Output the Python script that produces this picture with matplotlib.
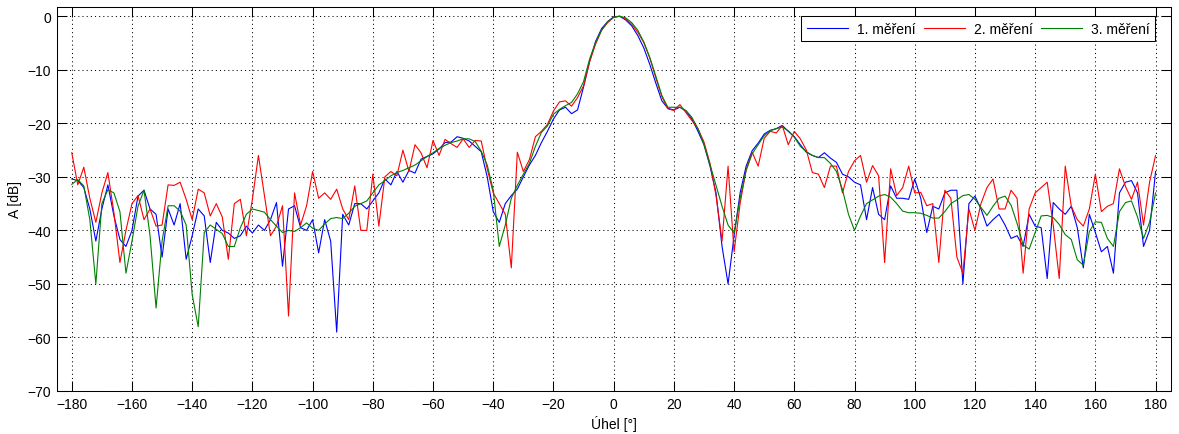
import numpy as np
import matplotlib
matplotlib.use('Agg')
import matplotlib.pyplot as plt

plt.rcParams['font.family'] = ['Liberation Sans', 'DejaVu Sans']
plt.rcParams['font.size'] = 10

# angle grid, 2 degree step
uhel = np.arange(-180, 181, 2)

# 1. mereni (blue)
mereni1 = [
    -30.4, -30.7, -32.0, -36.0, -42.0, -36.0, -31.5, -37.3, -41.7, -43.0,
    -40.0, -33.6, -32.5, -36.0, -37.0, -45.0, -36.0, -39.0, -35.0, -45.4,
    -41.0, -36.0, -37.3, -46.0, -38.5, -40.0, -40.5, -41.5, -41.0, -39.2,
    -40.5, -39.0, -40.0, -38.0, -34.8, -46.7, -36.0, -35.4, -39.5, -40.0,
    -38.0, -44.2, -38.0, -42.0, -59.0, -37.0, -39.0, -35.0, -35.0, -36.0,
    -34.5, -33.0, -30.4, -31.5, -29.0, -31.0, -28.8, -29.3, -26.7, -26.2,
    -25.7, -24.8, -23.6, -23.5, -22.5, -22.8, -23.3, -24.3, -25.3, -30.0,
    -36.5, -38.5, -35.0, -33.5, -32.3, -30.0, -27.8, -26.0, -23.6, -21.5,
    -19.2, -17.5, -17.0, -18.2, -17.5, -13.2, -8.5, -4.7, -2.3, -1.0,
    -0.1, 0.0, -0.7, -1.8, -3.6, -5.9, -9.0, -12.5, -15.8, -17.2,
    -17.5, -17.0, -17.7, -19.2, -21.5, -24.0, -28.0, -33.0, -43.0, -50.0,
    -41.0, -33.0, -28.0, -25.1, -23.7, -22.0, -21.3, -21.0, -20.4, -21.5,
    -22.5, -24.0, -25.4, -26.0, -26.4, -25.5, -26.5, -27.3, -29.5, -30.0,
    -31.0, -31.5, -38.0, -32.0, -37.0, -38.0, -31.7, -34.0, -34.0, -34.2,
    -30.4, -34.0, -40.4, -35.5, -36.0, -33.0, -32.5, -32.5, -50.0, -35.0,
    -33.6, -36.0, -39.2, -38.0, -37.0, -39.0, -41.5, -41.0, -43.0, -37.0,
    -39.2, -39.5, -49.0, -34.8, -36.0, -37.0, -35.5, -39.5, -47.0, -37.0,
    -40.4, -44.0, -43.0, -48.0, -33.0, -31.0, -30.7, -33.0, -43.0, -40.0,
    -29.0,
]

# 2. mereni (red)
mereni2 = [
    -25.5, -31.5, -28.2, -34.0, -38.5, -33.0, -29.2, -36.7, -46.0, -40.0,
    -35.0, -33.5, -38.0, -36.0, -39.2, -39.0, -31.5, -31.6, -31.0, -34.2,
    -38.0, -32.3, -33.0, -37.3, -35.0, -37.5, -45.4, -35.0, -34.2, -41.0,
    -34.2, -26.0, -33.5, -41.0, -39.2, -35.4, -56.0, -33.0, -39.0, -35.4,
    -29.0, -34.0, -33.0, -34.2, -32.3, -36.0, -38.0, -31.7, -40.0, -40.0,
    -29.5, -39.2, -30.0, -29.0, -29.8, -25.0, -29.0, -24.0, -25.5, -28.3,
    -23.2, -26.0, -23.0, -23.8, -24.5, -22.9, -24.5, -23.2, -23.3, -28.5,
    -33.0, -35.0, -37.0, -47.0, -25.4, -29.0, -26.8, -22.5, -21.5, -20.2,
    -17.7, -16.0, -15.8, -16.8, -15.2, -13.0, -8.5, -5.2, -2.6, -1.2,
    -0.2, 0.0, -0.5, -1.5, -3.0, -4.9, -7.8, -11.5, -15.0, -17.3,
    -17.6, -16.5, -18.0, -19.5, -21.0, -23.5, -27.5, -33.5, -42.0, -28.0,
    -44.0, -35.0, -28.7, -25.4, -28.0, -22.8, -21.5, -21.8, -20.4, -24.0,
    -21.5, -22.9, -25.0, -29.2, -29.5, -32.0, -28.0, -28.0, -33.0, -29.0,
    -27.0, -26.0, -31.0, -27.9, -29.8, -46.0, -28.5, -33.5, -32.0, -28.0,
    -33.0, -32.9, -35.4, -35.0, -46.0, -32.5, -34.0, -45.0, -48.0, -36.0,
    -40.0, -35.0, -32.0, -30.4, -36.0, -36.0, -32.5, -34.0, -48.0, -36.0,
    -33.0, -32.0, -31.0, -39.0, -49.0, -28.0, -35.5, -38.0, -39.2, -36.0,
    -29.5, -36.5, -35.5, -35.0, -28.5, -31.8, -34.2, -31.0, -39.0, -31.0,
    -26.0,
]

# 3. mereni (green)
mereni3 = [
    -31.4, -30.5, -31.7, -38.0, -50.0, -35.0, -32.4, -33.0, -36.5, -48.0,
    -42.0, -35.5, -32.5, -41.0, -54.5, -42.0, -35.4, -35.4, -36.4, -39.0,
    -52.0, -58.0, -40.4, -39.0, -39.8, -40.6, -43.0, -43.0, -39.5, -37.0,
    -36.0, -36.3, -36.6, -38.0, -39.2, -40.4, -40.0, -40.2, -39.5, -38.6,
    -39.6, -40.0, -38.8, -37.8, -37.6, -37.8, -36.8, -35.5, -35.0, -34.5,
    -33.0, -31.5, -30.7, -29.8, -29.2, -28.8, -28.3, -27.8, -27.0, -26.2,
    -25.5, -24.7, -24.1, -23.6, -23.3, -22.9, -22.9, -23.4, -25.2, -27.8,
    -32.5, -43.0, -39.0, -34.0, -31.6, -29.5, -27.5, -24.3, -21.7, -20.5,
    -18.3, -17.4, -16.7, -16.1, -14.5, -12.2, -8.0, -4.9, -2.6, -1.0,
    -0.2, 0.0, -0.3, -1.2, -2.6, -4.8, -7.7, -11.2, -14.8, -17.0,
    -17.0, -17.0, -17.6, -18.9, -21.0, -24.0, -27.7, -31.6, -35.5, -39.0,
    -40.5, -34.0, -28.8, -25.7, -24.0, -22.3, -21.4, -21.0, -20.7, -21.4,
    -22.6, -24.3, -25.3, -26.0, -26.4, -26.4, -27.5, -29.0, -32.4, -37.0,
    -40.0, -37.3, -35.0, -34.3, -33.6, -33.3, -33.8, -35.0, -36.4, -36.7,
    -36.7, -36.8, -37.2, -37.7, -37.7, -36.5, -35.0, -34.3, -33.5, -33.3,
    -34.2, -35.7, -37.2, -35.5, -34.0, -33.6, -35.3, -38.7, -42.7, -43.5,
    -40.4, -37.3, -37.2, -37.6, -38.9, -40.8, -41.7, -45.5, -46.5, -40.2,
    -38.4, -38.5, -41.5, -43.0, -36.5, -34.8, -34.5, -37.5, -41.5, -38.5,
    -33.0,
]

nazvy = ['1. měření', '2. měření', '3. měření']
barvy = ['#0000ff', '#ff0000', '#008000']

fig = plt.figure(figsize=(11.79, 4.35), dpi=100)
ax = fig.add_axes([0.0481, 0.0989, 0.9448, 0.8836])

for y, nazev, barva in zip([mereni1, mereni2, mereni3], nazvy, barvy):
    ax.plot(uhel, y, color=barva, linewidth=0.8, label=nazev)

ax.set_xlim(-185, 185)
ax.set_ylim(-70, 1.8)
ax.set_xticks(np.arange(-180, 181, 20))
ax.set_yticks(np.arange(-70, 1, 10))

# matlab like look
ax.grid(True, color='k', linestyle=(0, (1, 3)), linewidth=0.75)
ax.tick_params(direction='in', length=7, width=0.75, top=True, right=True,
               labelsize=10, pad=4)
for s in ax.spines.values():
    s.set_linewidth(0.75)

ax.set_xlabel('Úhel [°]', fontsize=10, labelpad=3)
ax.set_ylabel('A [dB]', fontsize=10, labelpad=4)

leg = ax.legend(loc='upper right', bbox_to_anchor=(0.986, 0.9755), ncol=3,
                fancybox=False, edgecolor='k', framealpha=1, borderaxespad=0,
                handlelength=3.0, handletextpad=0.6, columnspacing=0.6,
                borderpad=0.4, fontsize=10)
leg.get_frame().set_linewidth(0.75)

fig.savefig('out.png', dpi=100)
